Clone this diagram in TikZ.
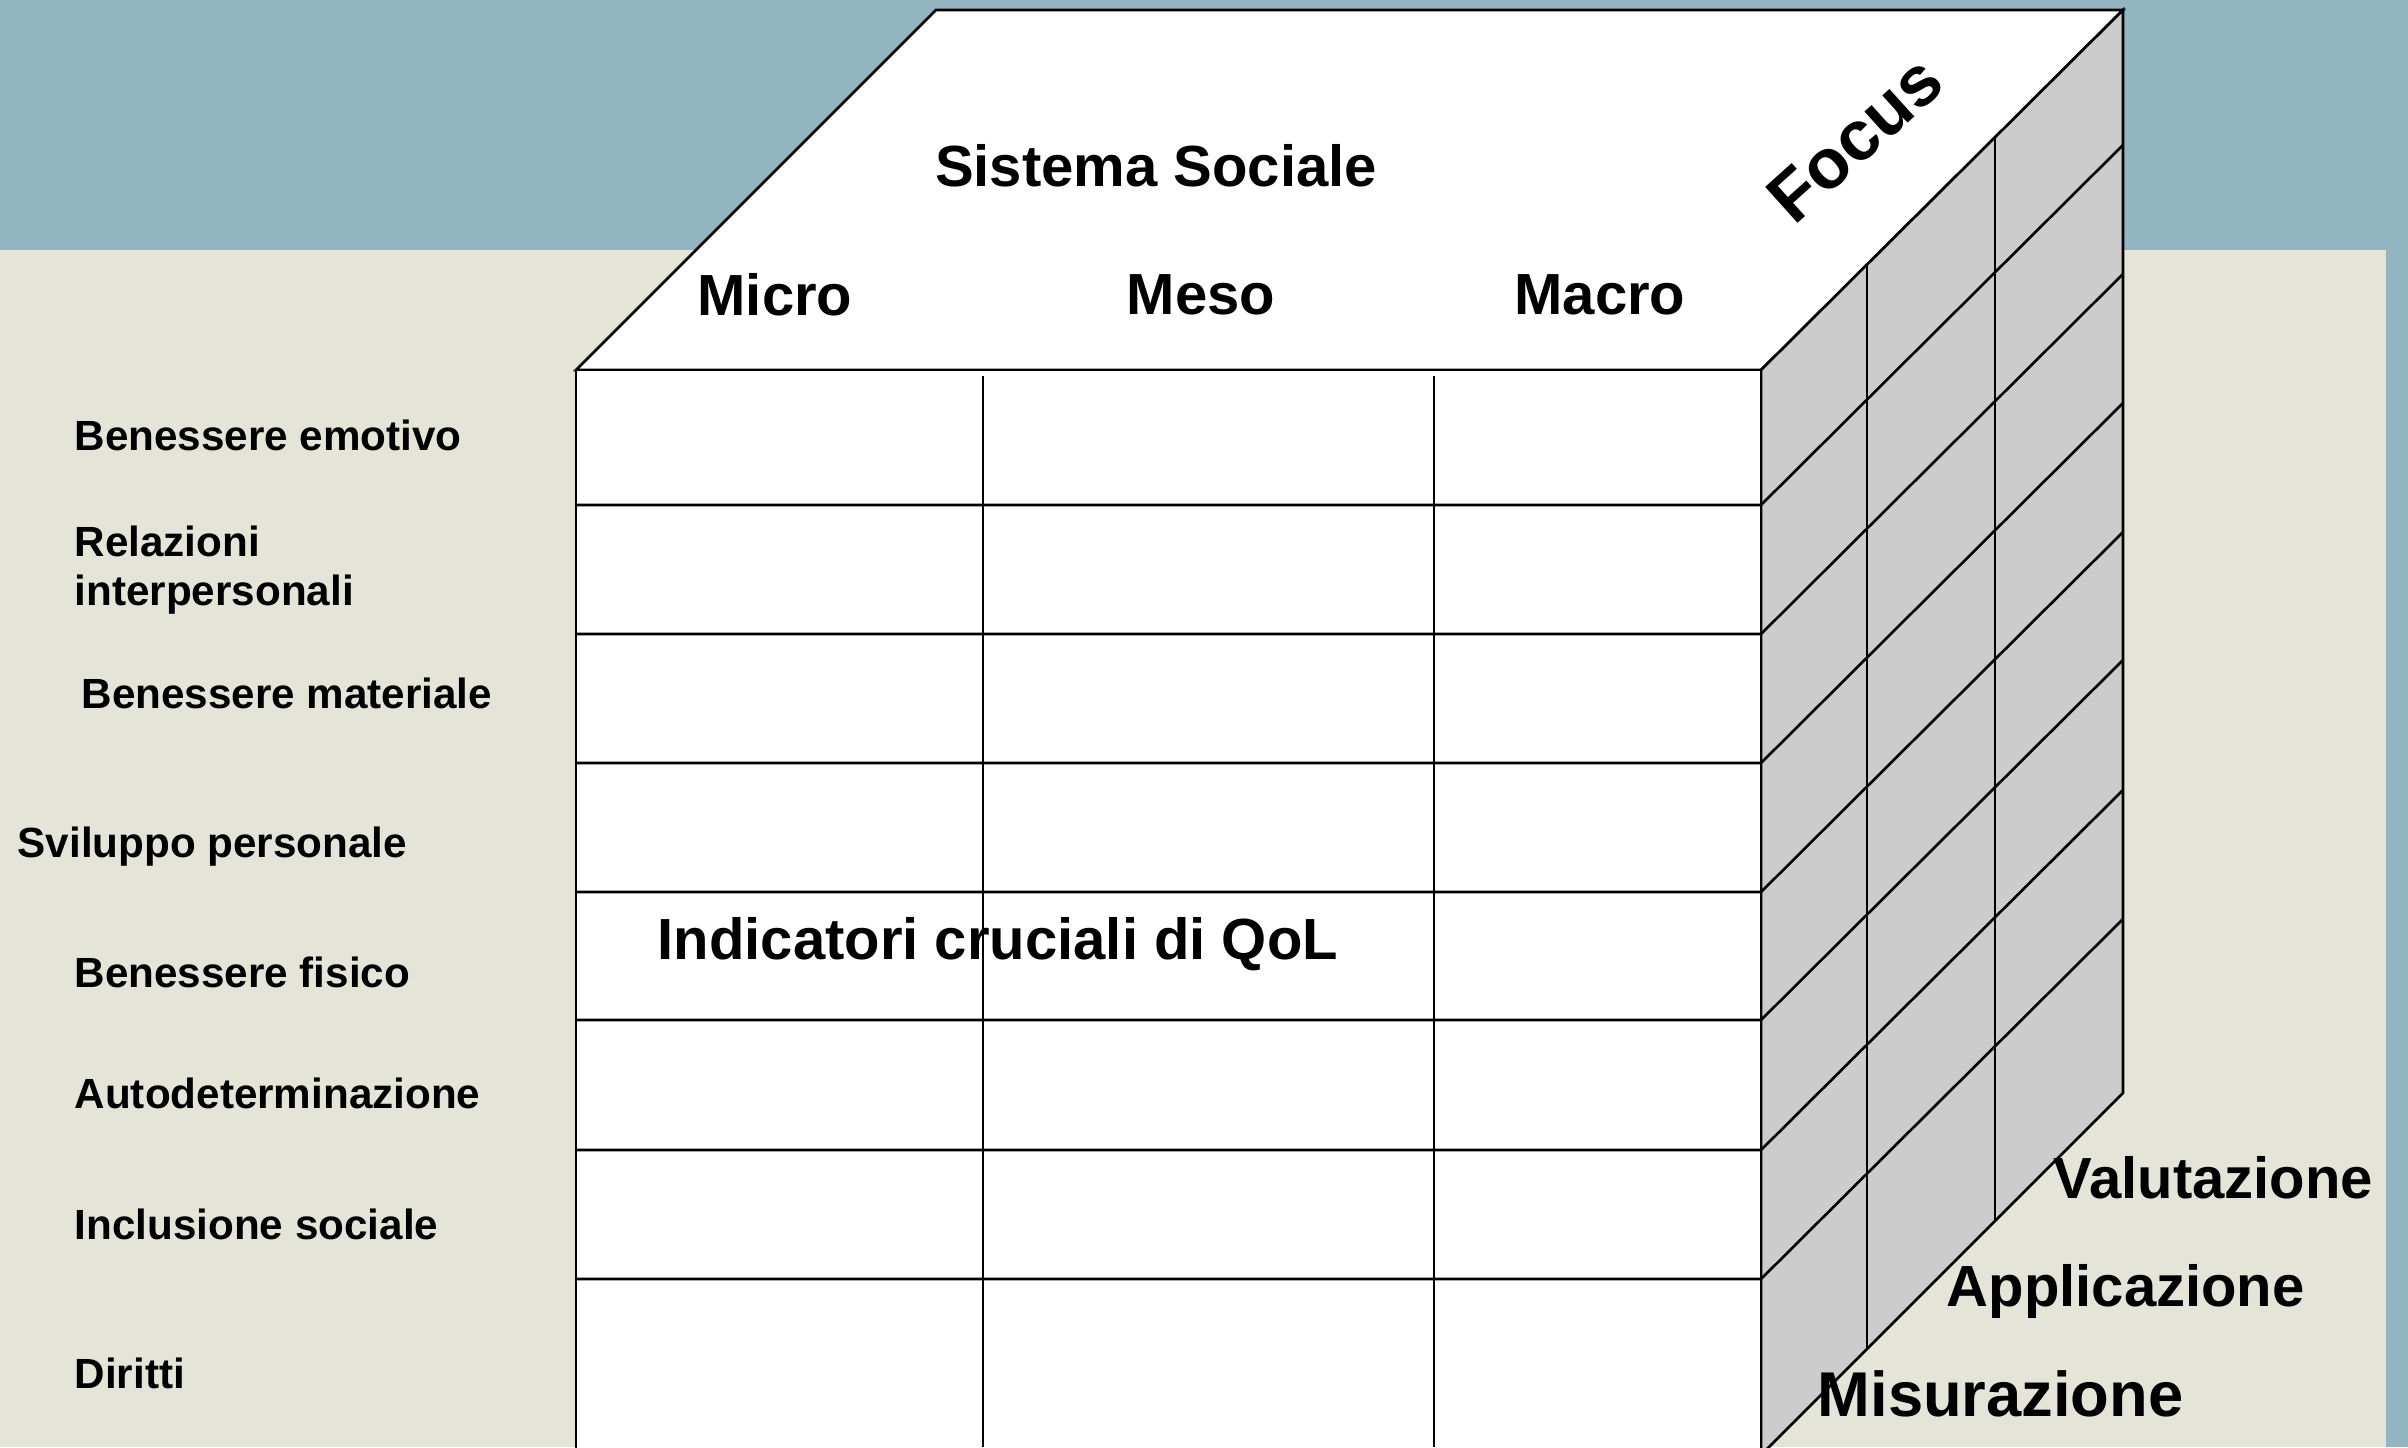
\documentclass[tikz,border=0pt]{standalone}
\usepackage{fontspec}
\setmainfont{Liberation Sans}
\usepackage{tikz}
\definecolor{slideblue}{HTML}{93B5C2}
\definecolor{slidepaper}{HTML}{E4E5D8}
\definecolor{sidegray}{HTML}{CCCCCC}

\begin{document}
\begin{tikzpicture}[x=0.01cm,y=-0.01cm,
        dimlabel/.style={font=\fontsize{16.5}{19}\selectfont\bfseries,inner sep=0pt},
        arealabel/.style={font=\fontsize{12}{13.7}\selectfont\bfseries,inner sep=0pt,anchor=west,align=left},
        cubeline/.style={line width=0.75pt}]
        \useasboundingbox (0,0) rectangle (2408,1447);
        \clip (0,0) rectangle (2408,1447);
        \fill[slideblue] (0,0) rectangle (2408,1447);
        \fill[slidepaper] (0,250) rectangle (2386,1447);

        \filldraw[cubeline,fill=white] (576,370) -- (936,10) -- (2123,10) -- (1761,370) -- cycle;
        \filldraw[cubeline,fill=sidegray] (1761,370) -- (2123,10) -- (2123,1093) -- (1761,1455) -- cycle;
        \filldraw[cubeline,fill=white] (576,370) rectangle (1761,1455);

        \draw[cubeline] (576,505) -- ++(1185,0) -- ++(362,-360);
        \draw[cubeline] (576,634) -- ++(1185,0) -- ++(362,-360);
        \draw[cubeline] (576,763) -- ++(1185,0) -- ++(362,-360);
        \draw[cubeline] (576,892) -- ++(1185,0) -- ++(362,-360);
        \draw[cubeline] (576,1020) -- ++(1185,0) -- ++(362,-360);
        \draw[cubeline] (576,1150) -- ++(1185,0) -- ++(362,-360);
        \draw[cubeline] (576,1279) -- ++(1185,0) -- ++(362,-360);
        \draw[cubeline] (983,376) -- (983,1447);
        \draw[cubeline] (1434,376) -- (1434,1447);
        \draw[cubeline] (1867,265) -- (1867,1349);
        \draw[cubeline] (1995,137) -- (1995,1221);

        \node[dimlabel] (sistema) at (1156,166) {Sistema Sociale};
        \node[dimlabel] (micro) at (775,295) {Micro};
        \node[dimlabel] (meso) at (1201,295) {Meso};
        \node[dimlabel] (macro) at (1600,295) {Macro};
        \node[dimlabel,rotate=42,font=\fontsize{20}{22}\selectfont\bfseries] (focus) at (1855,139) {Focus};
        \node[dimlabel,anchor=west] (qol) at (657,944) {Indicatori cruciali di QoL};
        \node[dimlabel,anchor=west] (valutazione) at (2053,1178) {Valutazione};
        \node[dimlabel,anchor=west] (applicazione) at (1946,1291) {Applicazione};
        \node[dimlabel,anchor=west,font=\fontsize{18}{20}\selectfont\bfseries] (misurazione) at (1817,1394) {Misurazione};

        \node[arealabel] (emotivo) at (74,435) {Benessere emotivo};
        \node[arealabel] (relazioni) at (74,570) {Relazioni\\interpersonali};
        \node[arealabel] (materiale) at (81,693) {Benessere materiale};
        \node[arealabel] (sviluppo) at (17,847) {Sviluppo personale};
        \node[arealabel] (fisico) at (74,972) {Benessere fisico};
        \node[arealabel] (autodeterminazione) at (74,1093) {Autodeterminazione};
        \node[arealabel] (inclusione) at (74,1224) {Inclusione sociale};
        \node[arealabel] (diritti) at (74,1373) {Diritti};
    \end{tikzpicture}
\end{document}
